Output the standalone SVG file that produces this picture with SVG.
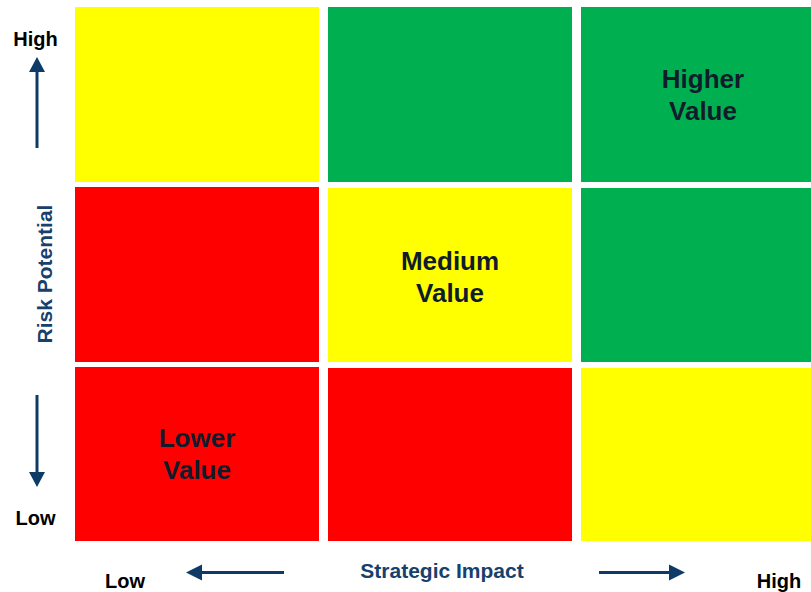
<svg xmlns="http://www.w3.org/2000/svg" width="811" height="592" viewBox="0 0 811 592">
<defs>
<style>
.y{fill:#FFFF00}.g{fill:#00B050}.r{fill:#FF0000}
.cell{font-family:"Liberation Sans",Arial,sans-serif;font-weight:bold;font-size:26px;fill:#0f1c2b;text-anchor:middle}
.ax{font-family:"Liberation Sans",Arial,sans-serif;font-weight:bold;font-size:20px;fill:#000;text-anchor:middle}
.ttl{font-family:"Liberation Sans",Arial,sans-serif;font-weight:bold;font-size:21px;fill:#17406d;text-anchor:middle}
.arr{stroke:#0d3a66;stroke-width:3;fill:none}
.head{fill:#0d3a66}
</style>
</defs>
<rect width="811" height="592" fill="#fff"/>
<g id="cell-r1c1"><rect class="y" x="75" y="7" width="244" height="175"/></g>
<g id="cell-r1c2"><rect class="g" x="328" y="7" width="244" height="175"/></g>
<g id="cell-r1c3"><rect class="g" x="581" y="7" width="230" height="175"/>
<text class="cell" x="703" y="88">Higher</text><text class="cell" x="703" y="120">Value</text></g>
<g id="cell-r2c1"><rect class="r" x="75" y="187" width="244" height="175"/></g>
<g id="cell-r2c2"><rect class="y" x="328" y="188" width="244" height="174"/>
<text class="cell" x="450" y="270">Medium</text><text class="cell" x="450" y="302">Value</text></g>
<g id="cell-r2c3"><rect class="g" x="581" y="188" width="230" height="174"/></g>
<g id="cell-r3c1"><rect class="r" x="75" y="367" width="244" height="174"/>
<text class="cell" x="197" y="447">Lower</text><text class="cell" x="197" y="479">Value</text></g>
<g id="cell-r3c2"><rect class="r" x="328" y="368" width="244" height="173"/></g>
<g id="cell-r3c3"><rect class="y" x="581" y="368" width="230" height="173"/></g>
<g id="labels">
<text class="ax" x="35.5" y="46">High</text>
<text class="ax" x="35.5" y="525">Low</text>
<text class="ax" x="125" y="588">Low</text>
<text class="ax" x="779" y="588">High</text>
<text class="ttl" x="442" y="578">Strategic Impact</text>
<text class="ttl" transform="translate(52,274) rotate(-90)">Risk Potential</text>
</g>
<g id="connectors">
<line class="arr" x1="37" y1="148" x2="37" y2="70"/>
<polygon class="head" points="37,57 29,72 45,72"/>
<line class="arr" x1="37" y1="395" x2="37" y2="473"/>
<polygon class="head" points="37,487 29,472 45,472"/>
<line class="arr" x1="284" y1="572.5" x2="200" y2="572.5"/>
<polygon class="head" points="186,572.5 202,564.5 202,580.5"/>
<line class="arr" x1="599" y1="572.5" x2="671" y2="572.5"/>
<polygon class="head" points="685,572.5 669,564.5 669,580.5"/>
</g>
</svg>
